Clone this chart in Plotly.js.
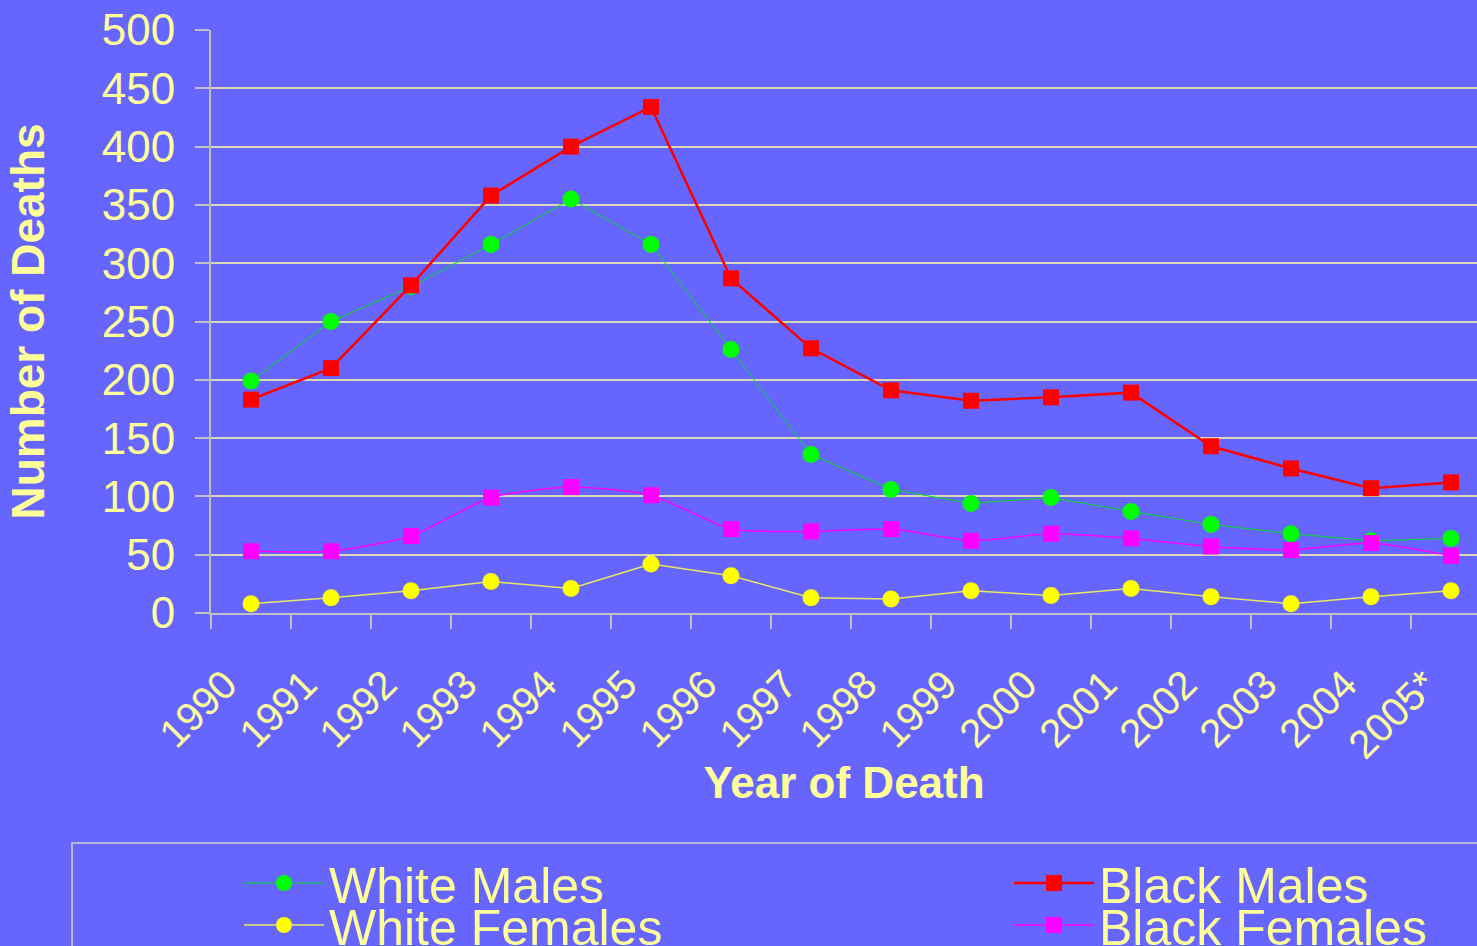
<!DOCTYPE html>
<html>
<head>
<meta charset="utf-8">
<script src="https://cdn.plot.ly/plotly-3.0.1.min.js"></script>
<style>html,body{margin:0;padding:0;background:#6666FF;overflow:hidden;}</style>
</head>
<body>
<div id="chart" style="width:1477px;height:946px;"></div>
<script>
const years = ["1990","1991","1992","1993","1994","1995","1996","1997","1998","1999","2000","2001","2002","2003","2004","2005*"];
const whiteMales   = [199, 250, 280, 316, 355, 316, 226, 136, 106, 94, 99, 87, 76, 68, 62, 64];
const blackMales   = [183, 210, 281, 358, 400, 434, 287, 227, 191, 182, 185, 189, 143, 124, 107, 112];
const whiteFemales = [8, 13, 19, 27, 21, 42, 32, 13, 12, 19, 15, 21, 14, 8, 14, 19];
const blackFemales = [53, 53, 66, 99, 108, 101, 72, 70, 72, 62, 68, 64, 57, 54, 60, 49];
const yTicks = [0, 50, 100, 150, 200, 250, 300, 350, 400, 450, 500];

const txt = '#FFFF99';
const font = 'Liberation Sans, Arial, sans-serif';

const traces = [
  {name:'White Males', x:years, y:whiteMales, type:'scatter', mode:'lines+markers',
   line:{color:'#00DD22', width:1}, marker:{color:'#00FF00', size:17, symbol:'circle'}, legend:'legend'},
  {name:'Black Males', x:years, y:blackMales, type:'scatter', mode:'lines+markers',
   line:{color:'#FF0000', width:2.5}, marker:{color:'#FF0000', size:16, symbol:'square'}, legend:'legend2'},
  {name:'White Females', x:years, y:whiteFemales, type:'scatter', mode:'lines+markers',
   line:{color:'#E8E860', width:1.5}, marker:{color:'#FFFF00', size:17, symbol:'circle'}, legend:'legend3'},
  {name:'Black Females', x:years, y:blackFemales, type:'scatter', mode:'lines+markers',
   line:{color:'#FF00FF', width:1.5, shape:'spline', smoothing:0.6}, marker:{color:'#FF00FF', size:16, symbol:'square'}, legend:'legend4'}
];

function leg(px, py) {
  return {
    orientation:'h', xref:'container', yref:'container',
    x:px/1477, y:1 - py/946, xanchor:'left', yanchor:'middle',
    font:{family:font, size:50, color:txt}, bgcolor:'rgba(0,0,0,0)', borderwidth:0,
    itemwidth:80
  };
}

const layout = {
  width:1477, height:946,
  paper_bgcolor:'#6666FF', plot_bgcolor:'#6666FF',
  margin:{l:211, r:0, t:30, b:333, autoexpand:false},
  showlegend:true,
  font:{family:font, color:txt},
  xaxis:{
    type:'category', range:[-0.5, 15.325], tickson:'boundaries',
    ticks:'outside', ticklen:14, tickcolor:'#C0C0C0', tickwidth:2,
    showline:true, linecolor:'#C0C0C0', linewidth:2,
    showgrid:false, zeroline:false, tickangle:-45,
    tickfont:{family:font, size:40, color:txt}, ticklabelstandoff:30, ticklabelshift:-26,
    title:{text:'Year of Death', font:{family:font, size:44, color:txt, weight:'bold'}, standoff:1},
    fixedrange:true
  },
  yaxis:{
    range:[0, 500], tickvals:yTicks, ticktext:yTicks.map(String),
    ticks:'outside', ticklen:14, tickcolor:'#C0C0C0', tickwidth:2,
    showline:true, linecolor:'#C0C0C0', linewidth:2,
    showgrid:true, gridcolor:'#D8D8B8', gridwidth:2, zeroline:false,
    tickfont:{family:font, size:44, color:txt}, ticklabelstandoff:11,
    title:{text:'Number of Deaths', font:{family:font, size:46, color:txt, weight:'bold'}, standoff:43},
    fixedrange:true
  },
  legend:leg(239, 883),
  legend2:leg(1009, 883),
  legend3:leg(239, 925),
  legend4:leg(1009, 925),
  shapes:[
    {type:'rect', xref:'paper', yref:'paper', x0:-0.1098, x1:1.02, y0:-0.3945, y1:-0.58,
     line:{color:'#D0D0D0', width:1.5}, fillcolor:'rgba(0,0,0,0)', layer:'below'}
  ]
};

Plotly.newPlot('chart', traces, layout, {displayModeBar:false, staticPlot:true});
</script>
</body>
</html>
